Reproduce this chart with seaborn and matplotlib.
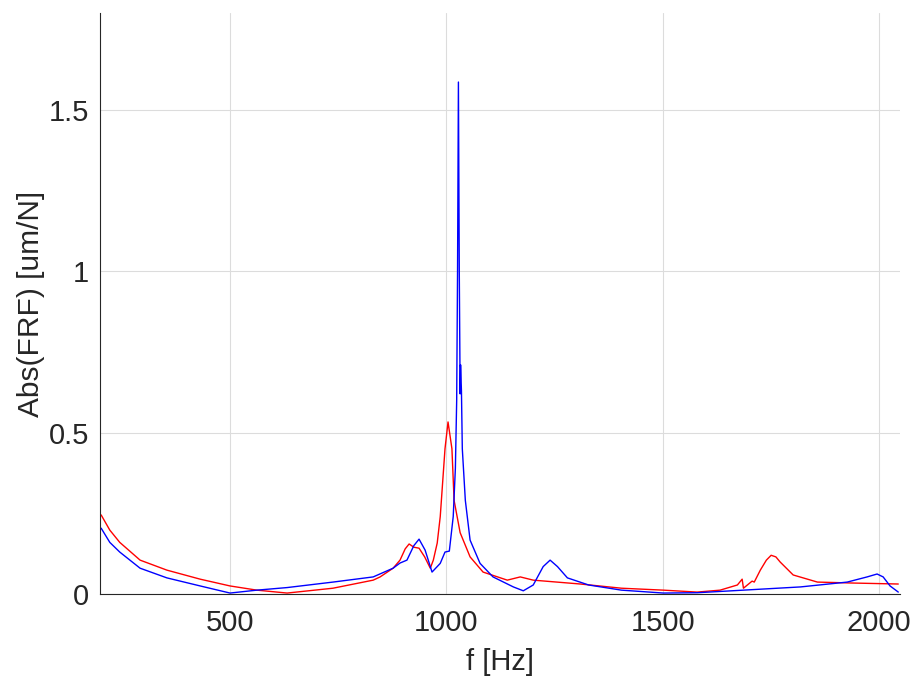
import numpy as np
import pandas as pd
import matplotlib
matplotlib.use("Agg")
import matplotlib.pyplot as plt
import seaborn as sns

# Red curve (frequency in Hz, |FRF| in um/N)
red_f = [202, 222, 245, 292, 354, 431, 500, 562, 632, 738, 831, 847, 877, 893, 905, 914,
         925, 937, 950, 963, 970, 979, 986, 997, 1004, 1013, 1018, 1032, 1055, 1085, 1141,
         1171, 1201, 1310, 1405, 1502, 1580, 1633, 1673, 1684, 1687, 1707, 1712, 1726,
         1740, 1751, 1762, 1772, 1802, 1858, 1941, 2045]
red_y = [0.245, 0.198, 0.160, 0.105, 0.074, 0.046, 0.025, 0.012, 0.003, 0.018, 0.043, 0.053,
         0.080, 0.105, 0.140, 0.155, 0.145, 0.142, 0.115, 0.080, 0.105, 0.158, 0.240, 0.450,
         0.533, 0.450, 0.290, 0.190, 0.115, 0.068, 0.043, 0.053, 0.043, 0.031, 0.018, 0.012,
         0.006, 0.012, 0.028, 0.046, 0.018, 0.040, 0.037, 0.074, 0.105, 0.120, 0.115, 0.099,
         0.059, 0.037, 0.034, 0.031]

# Blue curve
blue_f = [202, 222, 245, 292, 354, 431, 500, 562, 632, 738, 831, 877, 893, 909, 925, 937,
          951, 967, 986, 997, 1007, 1016, 1021, 1024, 1026, 1028, 1030, 1032, 1033, 1035,
          1037, 1044, 1055, 1078, 1108, 1155, 1178, 1201, 1224, 1240, 1257, 1280, 1329,
          1405, 1502, 1580, 1687, 1819, 1927, 1973, 1996, 2010, 2026, 2045]
blue_y = [0.204, 0.160, 0.130, 0.080, 0.050, 0.025, 0.003, 0.012, 0.020, 0.037, 0.053, 0.080,
          0.096, 0.105, 0.150, 0.170, 0.136, 0.068, 0.095, 0.130, 0.133, 0.240, 0.390, 0.600,
          1.000, 1.586, 1.000, 0.620, 0.710, 0.630, 0.450, 0.290, 0.167, 0.095, 0.053, 0.022,
          0.010, 0.028, 0.085, 0.105, 0.085, 0.050, 0.028, 0.012, 0.003, 0.004, 0.012, 0.022,
          0.037, 0.053, 0.062, 0.053, 0.025, 0.006]

x_ticks = [500, 1000, 1500, 2000]
y_ticks = [0, 0.5, 1, 1.5]
y_tick_labels = ["0", "0.5", "1", "1.5"]

sns.set_style("whitegrid")
plt.rcParams['font.family'] = ['Liberation Sans', 'DejaVu Sans']

df = pd.concat([
    pd.DataFrame({"f": red_f, "v": red_y, "s": "red"}),
    pd.DataFrame({"f": blue_f, "v": blue_y, "s": "blue"}),
])

fig = plt.figure(figsize=(9.15, 6.82), dpi=100)
ax = fig.add_axes([0.1096, 0.129, 0.8745, 0.852])
sns.lineplot(data=df, x="f", y="v", hue="s", palette={"red": "#ff0000", "blue": "#0000ff"},
             sort=False, estimator=None, linewidth=1.0, legend=False, ax=ax)

ax.set_xlim(200, 2050)
ax.set_ylim(0, 1.8)
ax.set_xticks(x_ticks)
ax.set_yticks(y_ticks)
ax.set_yticklabels(y_tick_labels)
ax.grid(True, color="#dcdcdc", linewidth=0.8)
for s in ["top", "right"]:
    ax.spines[s].set_visible(False)
for s in ["left", "bottom"]:
    ax.spines[s].set_color("#262626")
    ax.spines[s].set_linewidth(0.8)
ax.tick_params(axis="both", direction="in", length=6, width=0.8, color="#262626",
               labelcolor="#262626", labelsize=21)
ax.tick_params(axis="x", pad=11)
ax.tick_params(axis="y", pad=8)
ax.set_xlabel("f [Hz]", fontsize=21, color="#262626", labelpad=8)
ax.set_ylabel("Abs(FRF) [um/N]", fontsize=21.5, color="#262626", labelpad=3)
ax.set_facecolor("white")
fig.savefig("out.png", dpi=100, facecolor="white")
